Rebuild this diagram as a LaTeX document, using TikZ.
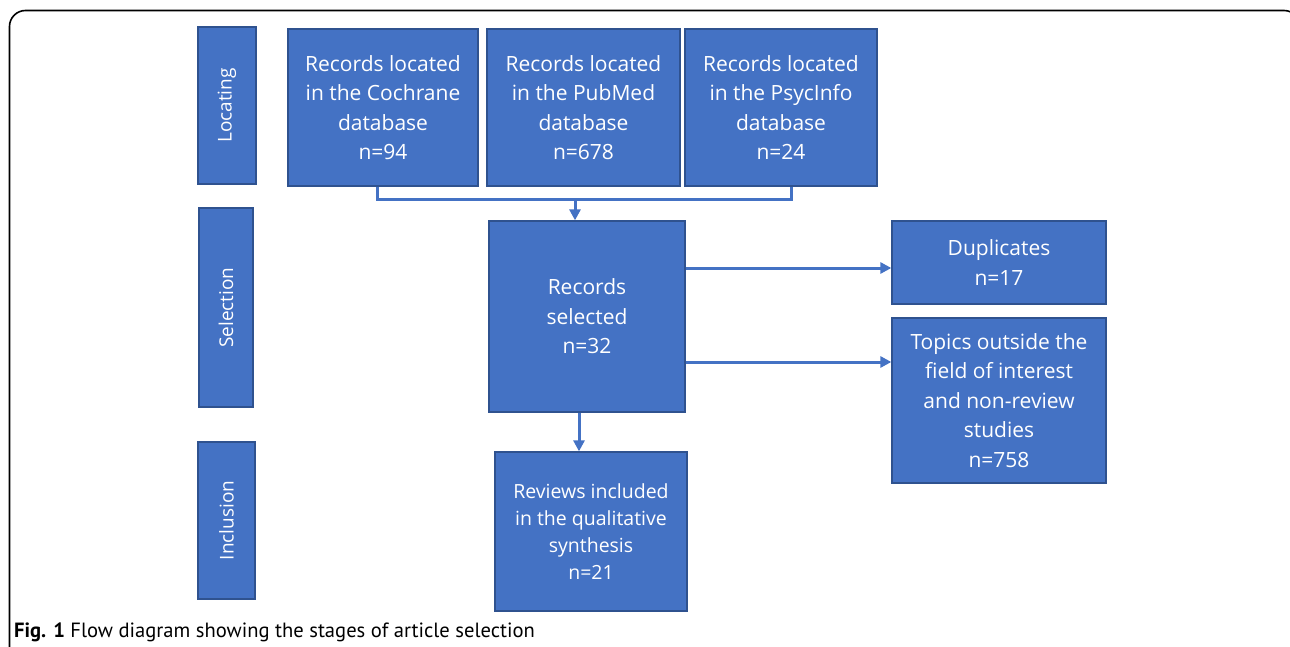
\documentclass[tikz,border=0pt]{standalone}
\usepackage{fontspec}
\setmainfont{Open Sans}
\newfontfamily\captionfont{PT Sans}
\usepackage{xcolor}
\usetikzlibrary{arrows.meta,positioning,calc}

\definecolor{officeblue}{HTML}{4472C4}
\definecolor{officeedge}{HTML}{2F528F}

\begin{document}
\begin{tikzpicture}[
    x=1pt, y=-1pt,
    >={Triangle[length=11pt,width=11pt]},
    box/.style={draw=officeedge, fill=officeblue, line width=1.3pt, text=white, align=center,
        inner sep=0pt, font=\fontsize{21}{29.5}\selectfont},
    stagebox/.style={box, font=\fontsize{19}{24}\selectfont},
    link/.style={draw=officeblue, line width=3pt},
    arrow/.style={link, ->}
]
    \useasboundingbox (0,0) rectangle (1290,647);
    \clip (0,0) rectangle (1290,647);

    % Frame
    \draw[line width=1.6pt, rounded corners=16pt] (9.5,10.5) rectangle (1300,690);

    % Stages
    \node[stagebox, minimum width=58pt, minimum height=157pt] (locating) at (227,105.5) {};
    \node[rotate=90, text=white, font=\fontsize{19}{24}\selectfont] at (locating.center) {Locating};
    \node[stagebox, minimum width=54pt, minimum height=199pt] (selection) at (226,307.5) {};
    \node[rotate=90, text=white, font=\fontsize{19}{24}\selectfont] at (selection.center) {Selection};
    \node[stagebox, minimum width=57pt, minimum height=157pt] (inclusion) at (226.5,520.5) {};
    \node[rotate=90, text=white, font=\fontsize{19}{24}\selectfont] at (inclusion.center) {Inclusion};

    % Databases
    \node[box, minimum width=190pt, minimum height=157pt] (cochrane) at (383,107.5)
        {Records located\\in the Cochrane\\database\\n=94};
    \node[box, minimum width=193pt, minimum height=157pt] (pubmed) at (583.5,107.5)
        {Records located\\in the PubMed\\database\\n=678};
    \node[box, minimum width=192pt, minimum height=157pt] (psycinfo) at (781,107.5)
        {Records located\\in the PsycInfo\\database\\n=24};

    % Selection
    \node[box, minimum width=196pt, minimum height=191pt] (selected) at (587,316.5)
        {Records\\selected\\n=32};
    \node[box, minimum width=214pt, minimum height=83pt] (duplicates) at (999,262.5)
        {Duplicates\\n=17};
    \node[box, minimum width=214pt, minimum height=165pt] (outside) at (999,400.5)
        {Topics outside the\\field of interest\\and non-review\\studies\\n=758};

    % Inclusion
    \node[box, minimum width=192pt, minimum height=159pt, font=\fontsize{19.5}{27}\selectfont] (reviews) at (591,531.5)
        {Reviews included\\in the qualitative\\synthesis\\n=21};

    % Arrows
    \coordinate (join) at (575,200);
    \draw[link] ([xshift=-6pt]cochrane.south) |- (join) -| ([xshift=10pt]psycinfo.south);
    \draw[arrow] (join) -- (join |- selected.north);
    \draw[arrow] ([yshift=48.5pt]selected.east) -- ([yshift=48.5pt]selected.east -| duplicates.west);
    \draw[arrow] ([yshift=-45.5pt]selected.east) -- ([yshift=-45.5pt]selected.east -| outside.west);
    \draw[arrow] ([xshift=-8pt]selected.south) -- ([xshift=-8pt]selected.south |- reviews.north);

    % Caption
    \node[anchor=west, inner sep=0pt, font=\captionfont\fontsize{20.6}{24}\selectfont] (caption) at (14,632)
        {\textbf{Fig. 1} Flow diagram showing the stages of article selection};
\end{tikzpicture}
\end{document}
